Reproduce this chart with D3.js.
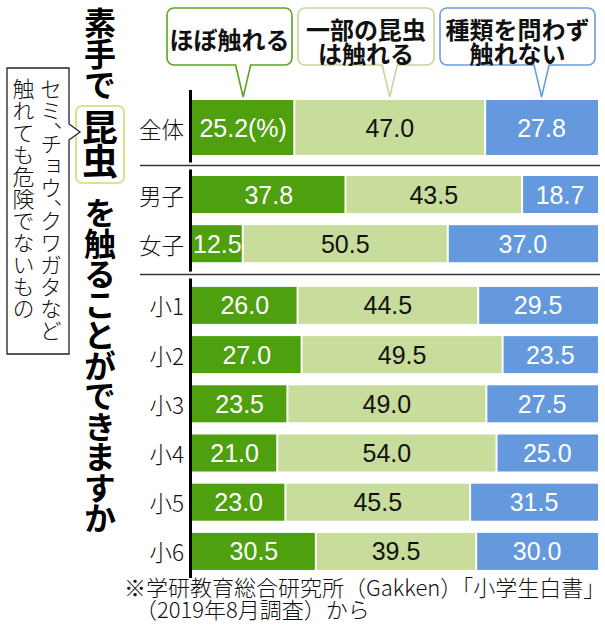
<!DOCTYPE html>
<html>
<head>
<meta charset="utf-8">
<script src="https://cdn.jsdelivr.net/npm/d3@7"></script>
<style>
  body { margin: 0; background: #fff; }
  svg { display: block; }
  .jp { font-family: "Noto Sans CJK JP", sans-serif; }
  .num { font-family: "Liberation Sans", Arial, sans-serif; }
</style>
</head>
<body>
<div id="chart"></div>
<script>
// ---- data ----
var categories = ["全体", "男子", "女子", "小1", "小2", "小3", "小4", "小5", "小6"];
var rowGroup   = [0, 1, 1, 2, 2, 2, 2, 2, 2];
var nearlyAll  = [25.2, 37.8, 12.5, 26.0, 27.0, 23.5, 21.0, 23.0, 30.5];
var someOnly   = [47.0, 43.5, 50.5, 44.5, 49.5, 49.0, 54.0, 45.5, 39.5];
var notAtAll   = [27.8, 18.7, 37.0, 29.5, 23.5, 27.5, 25.0, 31.5, 30.0];
var seriesKeys = ["nearlyAll", "someOnly", "notAtAll"];
var legendLines = [["ほぼ触れる"], ["一部の昆虫", "は触れる"], ["種類を問わず", "触れない"]];

var colors     = ["#4fa00e", "#c8dc9c", "#6499dd"];
var textColors = ["#fff", "#111", "#fff"];
var boxStroke  = ["#5aa51e", "#c3d79a", "#6a9dda"];

var W = 605, H = 640;

var svg = d3.select("#chart").append("svg")
    .attr("width", W)
    .attr("height", H);

// table for d3.stack
var table = categories.map(function(c, i) {
    return { cat: c, nearlyAll: nearlyAll[i], someOnly: someOnly[i], notAtAll: notAtAll[i] };
});
var stacked = d3.stack().keys(seriesKeys)(table);

var x = d3.scaleLinear().domain([0, 100]).range([192, 598]);

// row layout: fixed pitch, extra gap between groups, taller first bar
var pitch = 49.2, groupGap = 12.5, firstExtra = 5.3;
var slot = d3.scaleLinear().domain([0, 1]).range([127.5, 127.5 + pitch]);
function yc(i) { return slot(i) + rowGroup[i] * groupGap + (i > 0 ? firstExtra : 0); }
function bh(i) { return i === 0 ? 55 : 37; }

// ---- bars ----
var layers = svg.selectAll("g.layer")
    .data(stacked)
    .enter().append("g")
    .attr("class", "layer")
    .attr("fill", function(d, k) { return colors[k]; });

layers.selectAll("rect")
    .data(function(d, k) { return d.map(function(p, i) { return { p: p, i: i, k: k }; }); })
    .enter().append("rect")
    .attr("x", function(d) { return x(d.p[0]) + (d.k > 0 ? 1 : 0); })
    .attr("width", function(d) {
        return x(d.p[1]) - x(d.p[0]) - (d.k > 0 ? 1 : 0) - (d.k < 2 ? 1 : 0);
    })
    .attr("y", function(d) { return yc(d.i) - bh(d.i) / 2; })
    .attr("height", function(d) { return bh(d.i); });

var fmt = d3.format(".1f");
layers.selectAll("text")
    .data(function(d, k) { return d.map(function(p, i) { return { p: p, i: i, k: k }; }); })
    .enter().append("text")
    .attr("class", "num")
    .attr("x", function(d) { return (x(d.p[0]) + x(d.p[1])) / 2; })
    .attr("y", function(d) { return yc(d.i); })
    .attr("text-anchor", "middle")
    .attr("dominant-baseline", "central")
    .attr("font-size", 25)
    .attr("fill", function(d) { return textColors[d.k]; })
    .text(function(d) {
        var s = fmt(d.p[1] - d.p[0]);
        return (d.i === 0 && d.k === 0) ? s + "(%)" : s;
    });

// ---- row labels ----
svg.selectAll("text.row")
    .data(categories)
    .enter().append("text")
    .attr("class", "row jp")
    .attr("x", 184)
    .attr("y", function(d, i) { return yc(i); })
    .attr("text-anchor", "end")
    .attr("dominant-baseline", "central")
    .attr("font-size", 22.5)
    .attr("font-weight", 300)
    .attr("fill", "#111")
    .text(function(d) { return d; });

// ---- group separators and axis segments ----
var groups = d3.groups(categories.map(function(c, i) { return i; }), function(i) { return rowGroup[i]; });
var seps = [];
for (var g = 1; g < groups.length; g++) {
    var prevLast = groups[g - 1][1][groups[g - 1][1].length - 1];
    var nextFirst = groups[g][1][0];
    seps.push(((yc(prevLast) + bh(prevLast) / 2) + (yc(nextFirst) - bh(nextFirst) / 2)) / 2);
}

svg.selectAll("line.sep")
    .data(seps)
    .enter().append("line")
    .attr("x1", 140).attr("x2", 600)
    .attr("y1", function(d) { return d; }).attr("y2", function(d) { return d; })
    .attr("stroke", "#333")
    .attr("stroke-width", 1.4);

svg.selectAll("line.axis")
    .data(groups)
    .enter().append("line")
    .attr("x1", 190.5).attr("x2", 190.5)
    .attr("y1", function(d, g) {
        var f = d[1][0];
        return g === 0 ? yc(f) - bh(f) / 2 - 10 : seps[g - 1] + 4;
    })
    .attr("y2", function(d, g) {
        var l = d[1][d[1].length - 1];
        return g === groups.length - 1 ? yc(l) + bh(l) / 2 + 8 : seps[g] - 3;
    })
    .attr("stroke", "#000")
    .attr("stroke-width", 3);

// ---- legend callouts ----
var legendBoxes = [
    { x0: 167, x1: 292 },
    { x0: 298, x1: 434 },
    { x0: 440, x1: 595 }
];
function calloutPath(b, tipX, y0, y1, tipY, r) {
    var p = d3.path();
    p.moveTo(b.x0 + r, y0);
    p.lineTo(b.x1 - r, y0);
    p.arcTo(b.x1, y0, b.x1, y0 + r, r);
    p.lineTo(b.x1, y1 - r);
    p.arcTo(b.x1, y1, b.x1 - r, y1, r);
    p.lineTo(tipX + 7.5, y1);
    p.lineTo(tipX, tipY);
    p.lineTo(tipX - 7.5, y1);
    p.lineTo(b.x0 + r, y1);
    p.arcTo(b.x0, y1, b.x0, y1 - r, r);
    p.lineTo(b.x0, y0 + r);
    p.arcTo(b.x0, y0, b.x0 + r, y0, r);
    p.closePath();
    return p.toString();
}

var legend = svg.selectAll("g.legend")
    .data(stacked)
    .enter().append("g")
    .attr("class", "legend");

legend.append("path")
    .attr("d", function(d, k) {
        var tip = (x(d[0][0]) + x(d[0][1])) / 2;
        return calloutPath(legendBoxes[k], tip, 8, 65, yc(0) - bh(0) / 2 - 3, 7);
    })
    .attr("fill", "#fff")
    .attr("stroke", function(d, k) { return boxStroke[k]; })
    .attr("stroke-width", 1.6);

legend.each(function(d, k) {
    var lines = legendLines[k];
    var cx = (legendBoxes[k].x0 + legendBoxes[k].x1) / 2;
    var cy = lines.length > 1 ? 40 : 38;
    d3.select(this).append("text")
        .attr("class", "jp")
        .attr("text-anchor", "middle")
        .attr("dominant-baseline", "central")
        .attr("font-size", 24)
        .attr("font-weight", 700)
        .attr("fill", "#111")
        .selectAll("tspan")
        .data(lines)
        .enter().append("tspan")
        .attr("x", cx)
        .attr("y", function(t, j) { return cy + (j - (lines.length - 1) / 2) * 24; })
        .text(function(t) { return t; });
});

// ---- vertical title ----
var titleParts = [
    { t: "素手で", y: 7, size: 32, ls: -1 },
    { t: "昆虫", y: 109, size: 36, ls: -2 },
    { t: "を触ることができますか", y: 197, size: 32, ls: -1.5 }
];
svg.append("rect")
    .attr("x", 76).attr("y", 106)
    .attr("width", 48).attr("height", 77)
    .attr("rx", 6)
    .attr("fill", "none")
    .attr("stroke", "#dbe292")
    .attr("stroke-width", 2.2);

svg.selectAll("text.title")
    .data(titleParts)
    .enter().append("text")
    .attr("class", "title jp")
    .attr("x", 100)
    .attr("y", function(d) { return d.y; })
    .style("writing-mode", "vertical-rl")
    .attr("font-size", function(d) { return d.size; })
    .attr("font-weight", 700)
    .attr("letter-spacing", function(d) { return d.ls; })
    .attr("fill", "#000")
    .text(function(d) { return d.t; });

// ---- note box with pointer ----
var nb = d3.path();
nb.moveTo(7, 68);
nb.lineTo(69, 68);
nb.lineTo(69, 124);
nb.lineTo(80, 132);
nb.lineTo(69, 140);
nb.lineTo(69, 354);
nb.lineTo(7, 354);
nb.closePath();
svg.append("path")
    .attr("d", nb.toString())
    .attr("fill", "#fff")
    .attr("stroke", "#222")
    .attr("stroke-width", 1.3);

var noteCols = [
    { t: "セミ、チョウ、クワガタなど", x: 51 },
    { t: "触れても危険でないもの", x: 23.5 }
];
svg.selectAll("text.note")
    .data(noteCols)
    .enter().append("text")
    .attr("class", "note jp")
    .attr("x", function(d) { return d.x; })
    .attr("y", 78)
    .style("writing-mode", "vertical-rl")
    .style("font-feature-settings", "'vhal'")
    .attr("font-size", 22)
    .attr("font-weight", 300)
    .attr("fill", "#111")
    .text(function(d) { return d.t; });

// ---- source ----
var sourceLines = ["※学研教育総合研究所（Gakken）「小学生白書」", "（2019年8月調査）から"];
svg.append("text")
    .attr("class", "src jp")
    .attr("font-size", 22)
    .attr("font-weight", 300)
    .attr("fill", "#111")
    .selectAll("tspan")
    .data(sourceLines)
    .enter().append("tspan")
    .attr("x", function(d, i) { return i === 0 ? 124 : 135; })
    .attr("y", function(d, i) { return 596 + i * 21.5; })
    .text(function(d) { return d; });
</script>
</body>
</html>
